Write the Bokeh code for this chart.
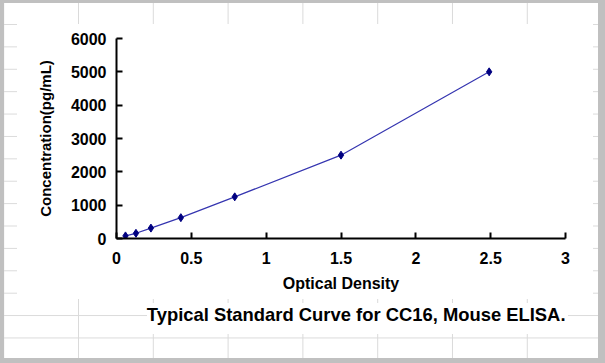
from bokeh.plotting import figure
from bokeh.models import FixedTicker, Title
from bokeh.embed import file_html
from bokeh.resources import INLINE

# Data
od = [0.06, 0.13, 0.23, 0.43, 0.79, 1.50, 2.49]
conc = [78, 156, 312, 625, 1250, 2500, 5000]

x_ticks = [0, 0.5, 1, 1.5, 2, 2.5, 3]
x_tick_labels = ["0", "0.5", "1", "1.5", "2", "2.5", "3"]
y_ticks = [0, 1000, 2000, 3000, 4000, 5000, 6000]
y_tick_labels = ["0", "1000", "2000", "3000", "4000", "5000", "6000"]

x_label = "Optical Density"
y_label = "Concentration(pg/mL)"
caption = "Typical Standard Curve for CC16, Mouse ELISA."

FONT = "Liberation Sans"

p = figure(width=605, height=363, output_backend="svg", toolbar_location=None,
           x_range=(0, 3), y_range=(0, 6000),
           min_border_left=116, min_border_right=40,
           min_border_top=38, min_border_bottom=125)

p.border_fill_color = None
p.border_fill_alpha = 0
p.background_fill_color = "white"
p.outline_line_color = None
p.xgrid.visible = False
p.ygrid.visible = False

# spreadsheet-like backdrop of the screenshot
p.styles = {
    "background-image": ", ".join([
        "linear-gradient(#ffffff,#ffffff)",
        "linear-gradient(#ffffff,#ffffff)",
        "linear-gradient(#c0c0c0,#c0c0c0)",
        "linear-gradient(#c0c0c0,#c0c0c0)",
        "linear-gradient(#c0c0c0,#c0c0c0)",
        "linear-gradient(#c0c0c0,#c0c0c0)",
        "linear-gradient(to right, #dadada 0px, #dadada 1px, transparent 1px)",
        "linear-gradient(to bottom, #dadada 0px, #dadada 1px, transparent 1px)",
    ]),
    "background-size": "421px 31px, 576px 275px, 7px 363px, 605px 5px, 4px 363px, 605px 3px, 74.8px 100%, 100% 22.4px",
    "background-position": "147px 303px, 17px 24px, 598px 0px, 0px 358px, 0px 0px, 0px 0px, 78px 0px, 0px 24px",
    "background-repeat": "no-repeat, no-repeat, no-repeat, no-repeat, no-repeat, no-repeat, repeat-x, repeat-y",
}

p.line(od, conc, line_color="#3535b0", line_width=1.2)
p.scatter(od, conc, marker="diamond", size=8, fill_color="#000080", line_color="#000080")

for ax, ticks, labels in ((p.xaxis[0], x_ticks, x_tick_labels), (p.yaxis[0], y_ticks, y_tick_labels)):
    ax.ticker = FixedTicker(ticks=ticks)
    ax.major_label_overrides = {t: l for t, l in zip(ticks, labels)}
    ax.minor_tick_line_color = None
    ax.major_tick_in = 6
    ax.major_tick_out = 0
    ax.major_tick_line_width = 2
    ax.major_tick_line_color = "black"
    ax.axis_line_width = 2
    ax.axis_line_color = "black"
    ax.major_label_text_font = FONT
    ax.major_label_text_font_style = "bold"
    ax.major_label_text_font_size = "16px"
    ax.major_label_text_color = "black"
    ax.axis_label_text_font = FONT
    ax.axis_label_text_font_style = "bold"
    ax.axis_label_text_color = "black"

p.xaxis.axis_label = x_label
p.yaxis.axis_label = y_label
p.xaxis.axis_label_text_font_size = "16px"
p.yaxis.axis_label_text_font_size = "15px"
p.xaxis.major_label_standoff = 13
p.xaxis.axis_label_standoff = 8
p.yaxis.major_label_standoff = 10
p.yaxis.axis_label_standoff = 14

p.add_layout(Title(text=caption, align="right", text_font=FONT, text_font_style="bold",
                   text_font_size="18.4px", text_color="black", standoff=14), "below")

open("out.html", "w").write(file_html(p, INLINE))
